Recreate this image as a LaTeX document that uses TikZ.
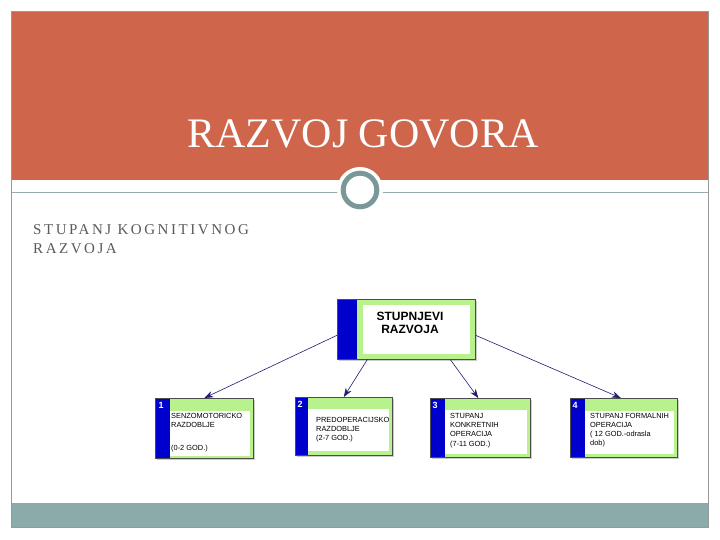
\documentclass[tikz,border=0pt]{standalone}
\usepackage{fontspec}
\setmainfont{Liberation Serif}
\setsansfont{Liberation Sans}
\newfontfamily\subfont[LetterSpace=17]{Liberation Serif}
\usetikzlibrary{arrows.meta,shadows}
\definecolor{hdr}{RGB}{207,101,75}
\definecolor{ftr}{RGB}{138,171,170}
\definecolor{ringc}{RGB}{122,152,152}
\definecolor{bblue}{RGB}{0,0,204}
\definecolor{bgreen}{RGB}{184,242,140}
\definecolor{navy}{RGB}{30,30,110}
\definecolor{subgray}{RGB}{90,90,90}
\newcommand\stagebox[8]{%
  % #1 name, #2 x, #3 y, #4 w, #5 h, #6 blue width, #7 top band, #8 bottom band
  \node[boxframe, minimum width=#4pt, minimum height=#5pt, anchor=north west] (#1) at (#2,#3) {};
  \fill[bblue] (#1.north west) rectangle ([xshift=#6pt]#1.south west);
  \fill[white] ([xshift=#6pt,yshift=-#7pt]#1.north west) rectangle ([xshift=-4pt,yshift=#8pt]#1.south east);
  \draw[boxline] (#1.north west) rectangle (#1.south east);
}
\begin{document}
\begin{tikzpicture}[x=1pt,y=-1pt,
  boxframe/.style={draw=black!70, line width=0.6pt, fill=bgreen, inner sep=0pt,
    drop shadow={shadow xshift=2pt, shadow yshift=-2pt, fill=black!40}},
  boxline/.style={draw=black!70, line width=0.6pt},
  stagetext/.style={anchor=base west, inner sep=0pt, font=\sffamily\fontsize{7.4}{9.2}\selectfont},
  numtext/.style={anchor=west, inner sep=0pt, text=white, font=\sffamily\bfseries\fontsize{9}{10}\selectfont},
  link/.style={draw=navy, line width=0.6pt, -{Stealth[length=9pt,width=6.5pt]}}]
\useasboundingbox (0,0) rectangle (720,540);
% slide frame
\fill[white] (11.5,11) rectangle (708.5,527.5);
\fill[hdr] (11.5,11) rectangle (708.5,180);
\fill[ftr] (11.5,503) rectangle (708.5,527.5);
\draw[ringc!80, line width=0.8pt] (11.5,192.5) -- (708.5,192.5);
\draw[black!40, line width=0.8pt] (11.5,11) rectangle (708.5,527.5);
\fill[white] (360,190) circle (23);
\draw[ringc, line width=5pt] (360,190) circle (16.8);
% titles
\node[anchor=base, inner sep=0pt, text=white, font=\fontsize{42}{50}\selectfont] (title) at (363,148) {RAZVOJ GOVORA};
\node[anchor=base west, inner sep=0pt, text=subgray, font=\subfont\fontsize{15}{19}\selectfont] (sub) at (33,234)
  {\begin{tabular}[t]{@{}l@{}}STUPANJ KOGNITIVNOG\\RAZVOJA\end{tabular}};
% top box
\node[boxframe, minimum width=138pt, minimum height=60pt, anchor=north west] (top) at (337,299) {};
\fill[bblue] (top.north west) rectangle ([xshift=20pt]top.south west);
\fill[white] ([xshift=26pt,yshift=-6pt]top.north west) rectangle ([xshift=-6pt,yshift=6pt]top.south east);
\draw[boxline] (top.north west) rectangle (top.south east);
\node[anchor=base, inner sep=0pt, font=\sffamily\bfseries\fontsize{12}{13}\selectfont] (toptext) at (410,320)
  {\begin{tabular}[t]{@{}c@{}}STUPNJEVI\\RAZVOJA\end{tabular}};
% stage boxes
\stagebox{b1}{155}{398}{98}{60}{15}{13}{3}
\stagebox{b2}{295}{397}{97}{58}{13}{12}{5}
\stagebox{b3}{430}{398}{100}{59}{15}{12}{4}
\stagebox{b4}{570}{398}{107}{59}{15}{13}{4}
\node[numtext] (n1) at ([xshift=3.5pt,yshift=-7pt]b1.north west) {1};
\node[numtext] (n2) at ([xshift=2.5pt,yshift=-7pt]b2.north west) {2};
\node[numtext] (n3) at ([xshift=2.5pt,yshift=-7pt]b3.north west) {3};
\node[numtext] (n4) at ([xshift=2.5pt,yshift=-7pt]b4.north west) {4};
\node[stagetext] (t1) at (171,418) {\begin{tabular}[t]{@{}l@{}}SENZOMOTORICKO\\RAZDOBLJE\\[14pt](0-2 GOD.)\end{tabular}};
\node[stagetext] (t2) at (316,422) {\begin{tabular}[t]{@{}l@{}}PREDOPERACIJSKO\\RAZDOBLJE\\(2-7 GOD.)\end{tabular}};
\node[stagetext] (t3) at (450,418.5) {\begin{tabular}[t]{@{}l@{}}STUPANJ\\KONKRETNIH\\OPERACIJA\\(7-11 GOD.)\end{tabular}};
\node[stagetext] (t4) at (590,418) {\begin{tabular}[t]{@{}l@{}}STUPANJ FORMALNIH\\OPERACIJA\\( 12 GOD.-odrasla\\dob)\end{tabular}};
% connectors
\draw[link] ([yshift=-6pt]top.west) -- (b1.north);
\draw[link] ([xshift=-39pt]top.south) -- (b2.north);
\draw[link] ([xshift=44pt]top.south) -- ([xshift=-2pt]b3.north);
\draw[link] ([yshift=-6pt]top.east) -- ([xshift=-3pt]b4.north);
\end{tikzpicture}
\end{document}
